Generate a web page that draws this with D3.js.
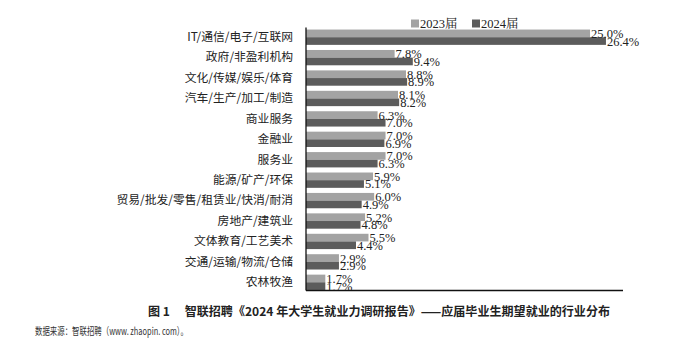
<!DOCTYPE html>
<html>
<head>
<meta charset="utf-8">
<script src="https://cdn.jsdelivr.net/npm/d3@7/dist/d3.min.js"></script>
<style>
  html, body { margin: 0; padding: 0; background: #fff; }
  svg { display: block; }
</style>
</head>
<body>
<div id="chart"></div>
<script>
// Industry categories (top to bottom)
const categories = [
  "IT/通信/电子/互联网",
  "政府/非盈利机构",
  "文化/传媒/娱乐/体育",
  "汽车/生产/加工/制造",
  "商业服务",
  "金融业",
  "服务业",
  "能源/矿产/环保",
  "贸易/批发/零售/租赁业/快消/耐消",
  "房地产/建筑业",
  "文体教育/工艺美术",
  "交通/运输/物流/仓储",
  "农林牧渔"
];
const seriesNames = ["2023届", "2024届"];
const values2023 = [25.0, 7.8, 8.8, 8.1, 6.3, 7.0, 7.0, 5.9, 6.0, 5.2, 5.5, 2.9, 1.7];
const values2024 = [26.4, 9.4, 8.9, 8.2, 7.0, 6.9, 6.3, 5.1, 4.9, 4.8, 4.4, 2.9, 1.7];
const seriesColors = ["#a3a3a3", "#5c5c5c"];
const captionText = "图 1\u3000 智联招聘《2024 年大学生就业力调研报告》——应届毕业生期望就业的行业分布";
const sourceText = "数据来源：智联招聘（www. zhaopin. com）。";

const W = 689, H = 348;
const svg = d3.select("#chart").append("svg").attr("width", W).attr("height", H);

const rows = categories.map((c, i) => ({ cat: c, vals: [values2023[i], values2024[i]] }));

const x = d3.scaleLinear().domain([0, 27.9]).range([306, 623]);
const y = d3.scaleBand().domain(categories).range([27, 292.5])
  .paddingInner(0.25).paddingOuter(0.125);
const ySub = d3.scaleBand().domain([0, 1]).range([0, y.bandwidth()]);

const serif = "'Liberation Serif', 'Times New Roman', 'Noto Serif CJK SC', 'Noto Sans CJK SC', serif";
const cjk = "'Noto Sans CJK SC', 'Liberation Serif', serif";

// Bars
const g = svg.append("g");
const row = g.selectAll("g.row").data(rows).join("g")
  .attr("class", "row")
  .attr("transform", d => `translate(0,${y(d.cat)})`);

row.selectAll("rect").data(d => d.vals.map((v, k) => ({ v, k }))).join("rect")
  .attr("x", x(0))
  .attr("y", d => ySub(d.k))
  .attr("width", d => x(d.v) - x(0))
  .attr("height", ySub.bandwidth())
  .attr("fill", d => seriesColors[d.k]);

// Value labels at bar ends
row.selectAll("text.val").data(d => d.vals.map((v, k) => ({ v, k }))).join("text")
  .attr("class", "val")
  .attr("x", d => x(d.v) + 1)
  .attr("y", d => ySub(d.k) + ySub.bandwidth() / 2)
  .attr("dy", "0.36em")
  .attr("font-family", serif)
  .attr("font-size", 12.5)
  .attr("fill", "#222")
  .text(d => d.v.toFixed(1) + "%");

// Category axis
const yAxis = d3.axisLeft(y).tickSize(0).tickPadding(13);
const ax = svg.append("g").attr("transform", `translate(${x(0)},0)`).call(yAxis);
ax.select(".domain").remove();
ax.selectAll("text")
  .attr("font-family", cjk)
  .attr("font-size", 11.8)
  .attr("fill", "#222");

// Axis lines
svg.append("line")
  .attr("x1", x(0)).attr("x2", x(0))
  .attr("y1", 27.5).attr("y2", 290.5)
  .attr("stroke", "#111").attr("stroke-width", 1.3);
svg.append("line")
  .attr("x1", x(0)).attr("x2", x.range()[1])
  .attr("y1", 290.5).attr("y2", 290.5)
  .attr("stroke", "#111").attr("stroke-width", 1.3);

// Legend
const legendX = [411, 472];
const legend = svg.append("g");
seriesNames.forEach((name, k) => {
  legend.append("rect")
    .attr("x", legendX[k]).attr("y", 19.5)
    .attr("width", 8).attr("height", 8)
    .attr("fill", seriesColors[k]);
  legend.append("text")
    .attr("x", legendX[k] + 9).attr("y", 23.5)
    .attr("dy", "0.36em")
    .attr("font-family", serif)
    .attr("font-size", 12.5)
    .attr("fill", "#222")
    .text(name);
});

// Caption and source
svg.append("text")
  .attr("x", 148).attr("y", 312)
  .attr("dy", "0.36em")
  .attr("font-family", cjk)
  .attr("font-weight", "bold")
  .attr("font-size", 12)
  .attr("textLength", 462)
  .attr("lengthAdjust", "spacingAndGlyphs")
  .attr("fill", "#222")
  .text(captionText);

svg.append("text")
  .attr("x", 35).attr("y", 331)
  .attr("dy", "0.36em")
  .attr("font-family", cjk)
  .attr("font-size", 10.5)
  .attr("textLength", 153)
  .attr("lengthAdjust", "spacingAndGlyphs")
  .attr("fill", "#333")
  .text(sourceText);
</script>
</body>
</html>
